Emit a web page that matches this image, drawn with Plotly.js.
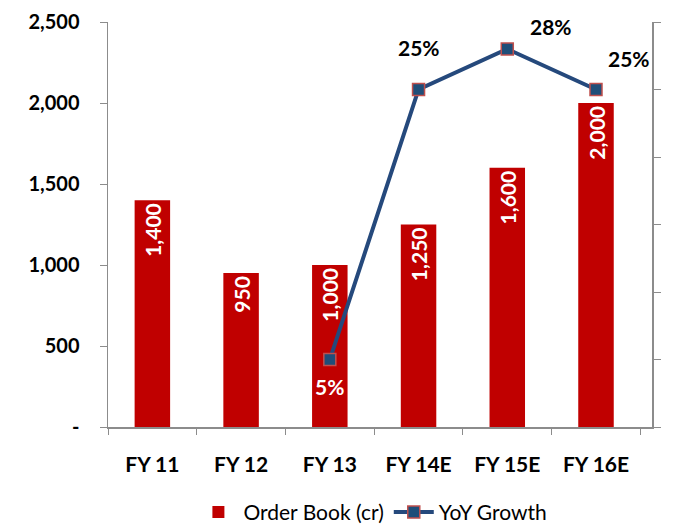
<!DOCTYPE html>
<html><head><meta charset="utf-8">
<script src="https://cdn.plot.ly/plotly-3.0.1.min.js"></script>
<style>body{margin:0;background:#fff}#c{width:678px;height:531px}</style>
</head><body><div id="c"></div>
<script>
const categories = ['FY 11','FY 12','FY 13','FY 14E','FY 15E','FY 16E'];
const orderBook = [1400, 950, 1000, 1250, 1600, 2000];
const growthCats = ['FY 13','FY 14E','FY 15E','FY 16E'];
const growth = [5, 25, 28, 25];
const growthLabels = ['5%','25%','28%','25%'];
const leftTicks = [0, 500, 1000, 1500, 2000, 2500];
const leftTickText = ['-', '500', '1,000', '1,500', '2,000', '2,500'];

const FONT = 'Lato, "Open Sans", sans-serif';
const labelOffsets = [[0,-27],[0,42],[44,23],[33,31]];

const bars = {
  type:'bar', x:categories, y:orderBook, name:'Order Book (cr)',
  marker:{color:'#C00000'}, width:0.4,
  text: orderBook.map(v=>v.toLocaleString('en-US')),
  textposition:'inside', insidetextanchor:'end', textangle:-90,
  constraintext:'none',
  textfont:{family:FONT, size:21, color:'#ffffff', weight:'bold'},
  hoverinfo:'skip'
};
const line = {
  type:'scatter', mode:'lines+markers', x:growthCats, y:growth, yaxis:'y2',
  name:'YoY Growth',
  line:{color:'#25497C', width:4},
  marker:{symbol:'square', size:12, color:'#1F4E79', line:{color:'#C0504D', width:1.5}},
  hoverinfo:'skip'
};
const annotations = growthCats.map((c,i)=>({
  x:c, y:growth[i], xref:'x', yref:'y2', text:growthLabels[i],
  showarrow:false, xshift:labelOffsets[i][0], yshift:labelOffsets[i][1],
  font:{family:FONT, size:21, color: i===0 ? '#ffffff' : '#000000', weight:'bold'}
}));

const layout = {
  width:678, height:531,
  margin:{l:108, r:26, t:22, b:104},
  paper_bgcolor:'#fff', plot_bgcolor:'#fff',
  font:{family:FONT, size:20, color:'#000'},
  showlegend:true,
  legend:{orientation:'h', x:0.55, xanchor:'center', xref:'container',
    y:0.035, yanchor:'middle', yref:'container', itemwidth:40,
    font:{family:FONT, size:21, color:'#000'}},
  xaxis:{type:'category', showline:true, linecolor:'#8c8c8c', linewidth:1.5,
    ticks:'outside', tickson:'boundaries', ticklen:6, tickcolor:'#8c8c8c',
    ticklabelstandoff:18,
    tickfont:{family:FONT, size:21, weight:'bold'}, showgrid:false, zeroline:false},
  yaxis:{range:[0,2500], tickvals:leftTicks, ticktext:leftTickText,
    showline:true, linecolor:'#8c8c8c', linewidth:1.5, ticks:'outside', ticklen:7,
    tickcolor:'#8c8c8c', showgrid:false, zeroline:false, ticklabelstandoff:16,
    tickfont:{family:FONT, size:20, weight:'bold'}},
  yaxis2:{range:[0,30], dtick:5, tick0:0, overlaying:'y', side:'right',
    showline:true, linecolor:'#8c8c8c', linewidth:1.5, ticks:'outside', ticklen:7,
    tickcolor:'#8c8c8c', showticklabels:false, showgrid:false, zeroline:false},
  annotations: annotations
};
Plotly.newPlot('c', [bars, line], layout, {displayModeBar:false, staticPlot:true});
</script>
</body></html>
